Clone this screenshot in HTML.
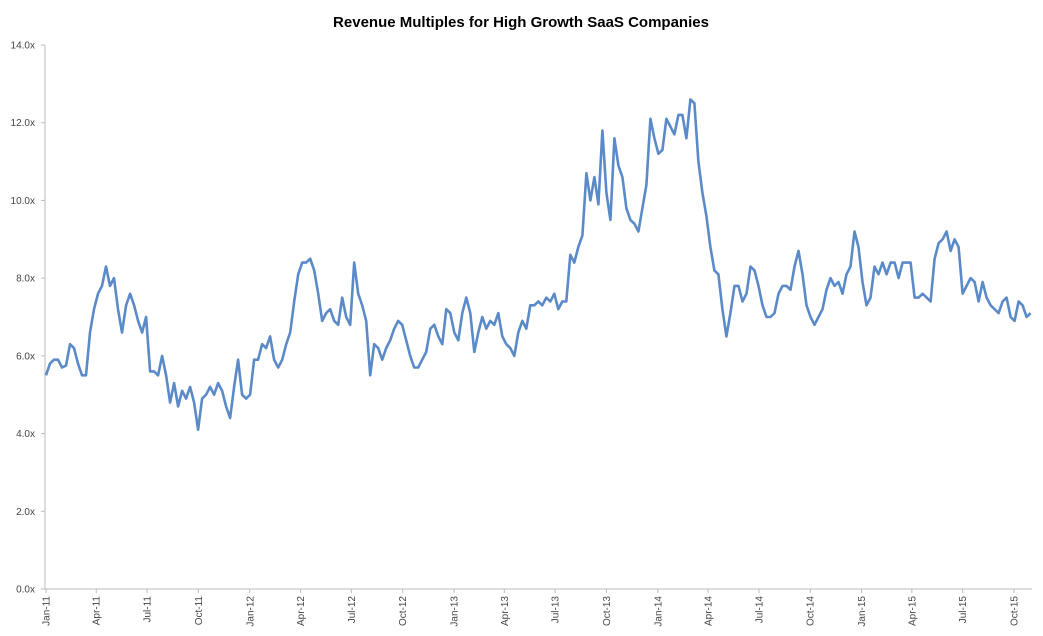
<!DOCTYPE html>
<html><head><meta charset="utf-8"><style>
html,body{margin:0;padding:0;background:#fff;}
svg{display:block;font-family:"Liberation Sans",sans-serif;}
</style></head><body>
<svg id="chart" width="1043" height="636" xmlns="http://www.w3.org/2000/svg">
<text x="521" y="27" text-anchor="middle" font-size="15" font-weight="bold" fill="#000">Revenue Multiples for High Growth SaaS Companies</text>
<g id="axes"></g>
<g id="series"></g>
</svg>
<script>
const yTicks = [0,2,4,6,8,10,12,14];
const tickLabels = ["Jan-11","Apr-11","Jul-11","Oct-11","Jan-12","Apr-12","Jul-12","Oct-12","Jan-13","Apr-13","Jul-13","Oct-13","Jan-14","Apr-14","Jul-14","Oct-14","Jan-15","Apr-15","Jul-15","Oct-15"];
const tickDays = [0,90,181,273,365,456,547,639,731,821,912,1004,1096,1186,1277,1369,1461,1551,1642,1734];
const sampleDays = 7.17;
const values = [5.5,5.8,5.9,5.9,5.7,5.75,6.3,6.2,5.8,5.5,5.5,6.6,7.2,7.6,7.8,8.3,7.8,8.0,7.2,6.6,7.3,7.6,7.3,6.9,6.6,7.0,5.6,5.6,5.5,6.0,5.5,4.8,5.3,4.7,5.1,4.9,5.2,4.8,4.1,4.9,5.0,5.2,5.0,5.3,5.1,4.7,4.4,5.2,5.9,5.0,4.9,5.0,5.9,5.9,6.3,6.2,6.5,5.9,5.7,5.9,6.3,6.6,7.4,8.1,8.4,8.4,8.5,8.2,7.6,6.9,7.1,7.2,6.9,6.8,7.5,7.0,6.8,8.4,7.6,7.3,6.9,5.5,6.3,6.2,5.9,6.2,6.4,
6.7,6.9,6.8,6.4,6.0,5.7,5.7,5.9,6.1,6.7,6.8,6.5,6.3,7.2,7.1,6.6,6.4,7.1,7.5,7.1,6.1,6.6,7.0,6.7,6.9,6.8,7.1,6.5,6.3,6.2,6.0,6.6,6.9,6.7,7.3,7.3,7.4,7.3,7.5,7.4,7.6,7.2,7.4,7.4,8.6,8.4,8.8,9.1,10.7,10.0,10.6,9.9,11.8,10.2,9.5,11.6,10.9,10.6,9.8,9.5,9.4,9.2,9.8,10.4,12.1,11.6,11.2,11.3,12.1,11.9,11.7,12.2,12.2,11.6,12.6,12.5,11.0,10.2,9.6,8.8,8.2,8.1,7.2,6.5,7.1,7.8,7.8,7.4,7.6,8.3,8.2,7.8,7.3,7.0,7.0,7.1,7.6,7.8,7.8,7.7,8.3,8.7,8.1,7.3,7.0,6.8,7.0,7.2,7.7,8.0,7.8,7.9,7.6,8.1,8.3,9.2,8.8,7.9,7.3,7.5,8.3,8.1,8.4,8.1,8.4,8.4,8.0,8.4,8.4,8.4,7.5,7.5,7.6,7.5,7.4,8.5,8.9,9.0,9.2,8.7,9.0,8.8,7.6,7.8,8.0,7.9,7.4,7.9,7.5,7.3,7.2,7.1,7.4,7.5,7.0,6.9,7.4,7.3,7.0,7.1];

const NS="http://www.w3.org/2000/svg";
const X0=46, XR=1014, Y0=589, YT=45;
function xScale(d){return X0 + d*(XR-X0)/tickDays[tickDays.length-1];}
function yScale(v){return Y0 - v*(Y0-YT)/14;}
const axes=document.getElementById('axes');
function mk(tag,attrs,parent){const e=document.createElementNS(NS,tag);for(const k in attrs)e.setAttribute(k,attrs[k]);parent.appendChild(e);return e;}

const yl=mk('line',{x1:45,y1:YT,x2:45,y2:Y0,stroke:'#bbb','stroke-width':1},axes);


const xl=mk('line',{x1:45,y1:Y0,x2:1032,y2:Y0,stroke:'#bbb','stroke-width':1},axes);



yTicks.forEach(v=>{
  const y=yScale(v);
  const t=mk('line',{x1:41,y1:y,x2:45,y2:y,stroke:'#bbb'},axes);
  
  
  const l=mk('text',{x:35,y:y+3.5,'text-anchor':'end','font-size':10,fill:'#444'},axes);
  l.textContent=v.toFixed(1)+'x';
  
  
});
tickLabels.forEach((lab,i)=>{
  const x=xScale(tickDays[i]);
  const t=mk('line',{x1:x,y1:Y0,x2:x,y2:Y0+4,stroke:'#bbb'},axes);
  
  
  const l=mk('text',{x:0,y:0,'text-anchor':'end','font-size':10,fill:'#444',transform:`translate(${x+3.5},${Y0+7}) rotate(-90)`},axes);
  l.textContent=lab;
  
  
});

const pts=values.map((v,i)=>xScale(i*sampleDays).toFixed(1)+','+yScale(v).toFixed(1)).join(' ');
const line=mk('polyline',{points:pts,fill:'none',stroke:'#5b8ac8','stroke-width':2.6,'stroke-linejoin':'round'},document.getElementById('series'));


</script>
</body></html>
